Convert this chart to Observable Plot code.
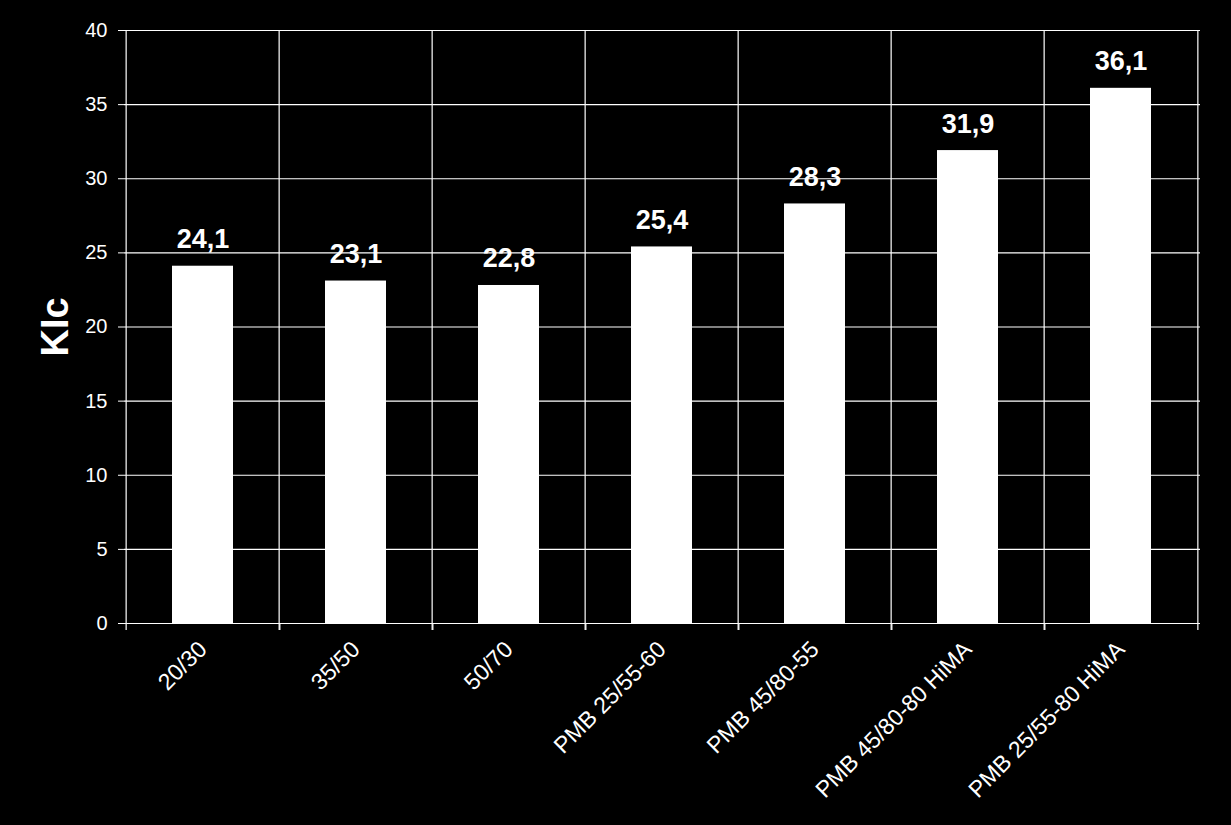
<!DOCTYPE html>
<html>
<head>
<meta charset="utf-8">
<script src="https://cdn.jsdelivr.net/npm/d3@7"></script>
<script src="https://cdn.jsdelivr.net/npm/@observablehq/plot@0.6"></script>
<style>
  html, body { margin: 0; padding: 0; background: #000; }
  svg { display: block; }
</style>
</head>
<body>
<div id="chart"></div>
<script>
const categories = ["20/30", "35/50", "50/70", "PMB 25/55-60", "PMB 45/80-55", "PMB 45/80-80 HiMA", "PMB 25/55-80 HiMA"];
const values = [24.1, 23.1, 22.8, 25.4, 28.3, 31.9, 36.1];
const yTicks = [0, 5, 10, 15, 20, 25, 30, 35, 40];
const yLabel = "KIc";

const data = categories.map((c, i) => ({cat: c, v: values[i]}));

const W = 1231, H = 825, mL = 124, mR = 31, mT = 30, mB = 202;
const step = (W - mL - mR) / categories.length;
const font = "'Liberation Sans', Arial, Helvetica, sans-serif";

const chart = Plot.plot({
  width: W,
  height: H,
  marginLeft: mL,
  marginRight: mR,
  marginTop: mT,
  marginBottom: mB,
  style: {background: "#000", color: "#fff", fontFamily: font},
  x: {domain: categories, paddingInner: 0.6, paddingOuter: 0.3, label: null},
  y: {domain: [0, 40], label: null},
  marks: [
    Plot.ruleY(yTicks, {stroke: "#fff", strokeWidth: 1.2}),
    Plot.ruleX(categories, {x: d => d, dx: -step / 2, stroke: "#fff", strokeWidth: 1.2}),
    Plot.ruleX(categories.slice(-1), {x: d => d, dx: step / 2, stroke: "#fff", strokeWidth: 1.2}),
    Plot.axisX({tickSize: 7, tickFormat: () => "", dx: -step / 2, stroke: "#fff", strokeWidth: 1.2}),
    Plot.axisX({tickSize: 7, tickFormat: () => "", dx: step / 2, stroke: "#fff", strokeWidth: 1.2}),
    Plot.barY(data, {x: "cat", y: "v", fill: "#fff"}),
    Plot.text(data, {x: "cat", y: "v", text: d => d.v.toFixed(1).replace(".", ","), lineAnchor: "bottom", dy: -18, fill: "#fff", fontSize: 27, fontWeight: "bold"}),
    Plot.axisY({ticks: yTicks, tickSize: 6, tickPadding: 11, fontSize: 20, stroke: "#fff", label: null}),
    Plot.axisX({tickSize: 0, tickPadding: 22, tickRotate: -45, fontSize: 23, label: null}),
    Plot.text([yLabel], {text: d => d, frameAnchor: "left", textAnchor: "middle", rotate: -90, dx: -69, fontSize: 38, fontWeight: "bold", fill: "#fff"})
  ]
});
document.getElementById("chart").appendChild(chart);
</script>
</body>
</html>
